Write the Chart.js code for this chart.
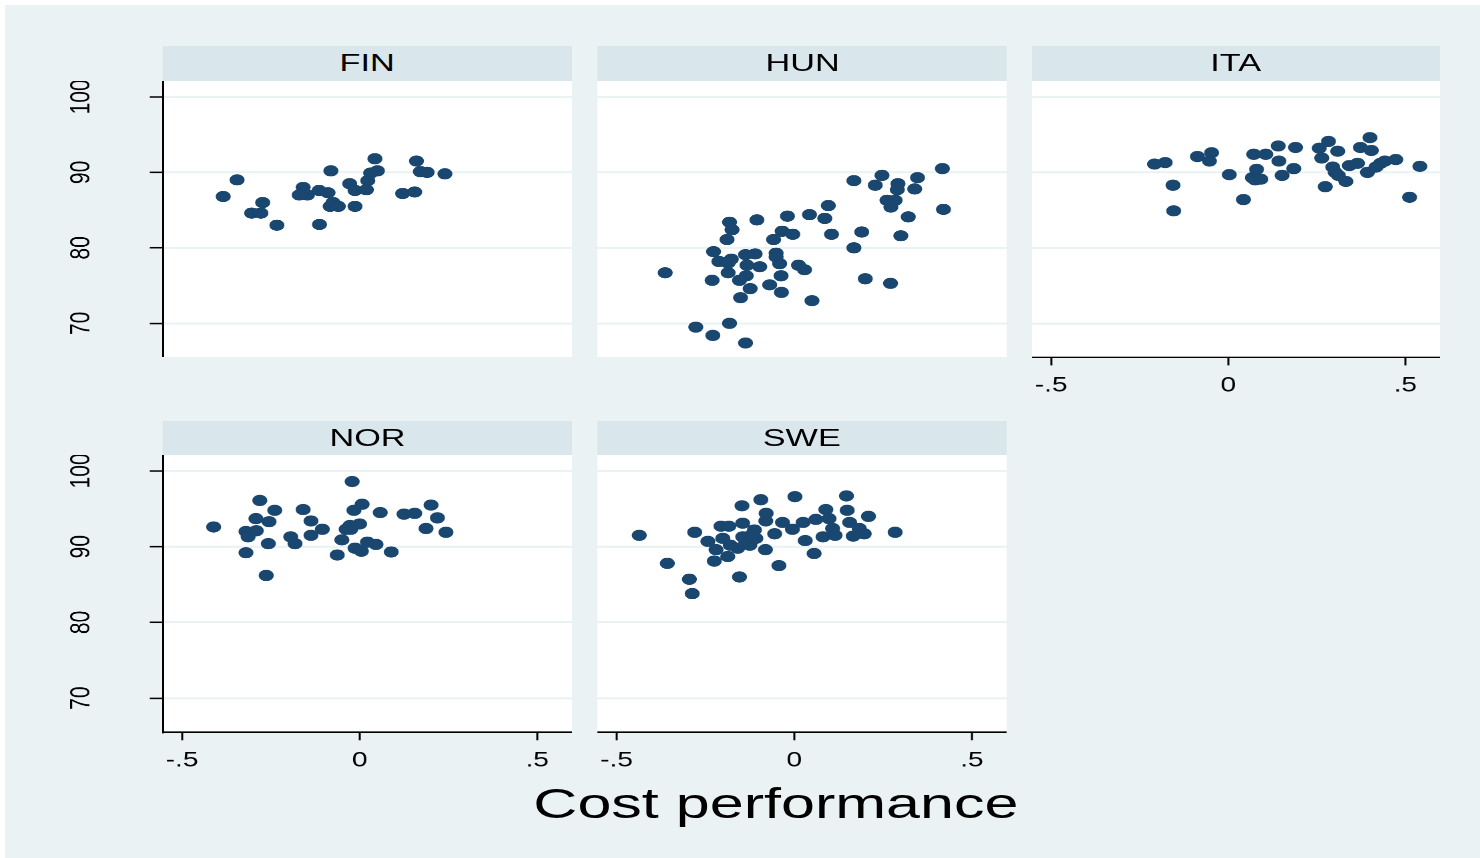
<!DOCTYPE html>
<html>
<head>
<meta charset="utf-8">
<title>Cost performance by country</title>
<script src="https://cdn.jsdelivr.net/npm/chart.js@4/dist/chart.umd.min.js"></script>
<style>
  html, body { margin: 0; padding: 0; background: #ffffff; }
  body { width: 1480px; height: 858px; overflow: hidden; position: relative;
         font-family: "Liberation Sans", Arial, Helvetica, sans-serif; }
  #bg { position: absolute; left: 5px; top: 5px; right: 0; bottom: 0; background: #eaf2f3; }
  /* the whole figure is laid out on a narrower stage and widened horizontally */
  #stage { position: absolute; left: 0; top: 0; width: 1110px; height: 858px;
           transform: scaleX(1.333333); transform-origin: 0 0; }
  .strip { position: absolute; background: #d9e6eb; color: #000; text-align: center;
           font-size: 24px; line-height: 33px; white-space: nowrap; overflow: hidden; }
  .strip span { display: inline-block; transform: scaleX(1.07); }
  .panel { position: absolute; }
  #xtitle { position: absolute; text-align: center; font-size: 42px; line-height: 42px;
            color: #000; white-space: nowrap; }
  #xtitle span { display: inline-block; transform: scaleX(1.09); }
</style>
</head>
<body>
<div id="bg"></div>
<div id="stage"></div>
<script>
// ---- data -------------------------------------------------------------
const countries = ['FIN', 'HUN', 'ITA', 'NOR', 'SWE'];
const xTitle = 'Cost performance';

const xTicks = [-0.5, 0, 0.5];
const xTickLabels = ['-.5', '0', '.5'];
const yTicks = [70, 80, 90, 100];
const yTickLabels = ['70', '80', '90', '100'];

const finX = [-0.384,-0.345,-0.273,-0.304,-0.278,-0.233,-0.159,-0.170,-0.147,-0.114,-0.089,-0.081,-0.083,-0.075,-0.060,
              -0.113,-0.028,-0.013,-0.013,0.019,0.023,0.031,0.050,0.043,0.121,0.155,0.160,0.171,0.190,0.240];
const finY = [86.8,89.0,86.0,84.6,84.6,83.0,88.0,87.0,87.0,87.6,87.3,90.2,85.5,86.0,85.5,
              83.1,88.5,85.5,87.6,87.7,88.9,89.9,90.2,91.8,87.2,87.4,91.5,90.1,90.0,89.8];

const hunX = [-0.363,-0.277,-0.229,-0.182,-0.137,-0.231,-0.227,-0.212,-0.189,-0.182,-0.175,-0.177,-0.186,-0.186,-0.154,
              -0.151,-0.137,-0.133,-0.135,-0.124,-0.110,-0.105,-0.097,-0.069,-0.058,-0.051,-0.051,-0.041,-0.037,-0.036,
              -0.034,-0.019,-0.004,0.012,0.029,0.043,0.050,0.086,0.096,0.105,0.168,0.168,0.190,0.200,0.228,
              0.247,0.261,0.284,0.272,0.271,0.292,0.290,0.300,0.321,0.339,0.347,0.417,0.420];
const hunY = [76.7,69.5,68.4,70.0,67.4,75.7,79.5,78.2,81.1,83.4,82.4,78.5,76.7,78.0,75.7,
              73.4,79.1,77.7,76.3,74.6,79.2,83.7,77.5,75.1,81.1,79.3,78.8,77.9,76.3,74.1,
              82.2,84.2,81.8,77.7,77.1,84.4,73.0,83.9,85.6,81.8,88.9,80.0,82.1,75.9,88.3,
              89.6,86.3,86.3,85.4,75.3,88.5,87.7,81.6,84.1,87.8,89.3,90.5,85.1];

const itaX = [-0.208,-0.178,-0.156,-0.154,-0.087,-0.047,-0.053,0.003,0.043,0.072,0.106,0.080,0.068,0.076,0.092,
              0.141,0.143,0.152,0.185,0.190,0.257,0.264,0.283,0.309,0.274,0.295,0.302,0.311,0.332,0.342,
              0.365,0.373,0.400,0.404,0.393,0.417,0.430,0.442,0.473,0.512,0.541];
const itaY = [91.1,91.3,88.3,84.9,92.1,92.6,91.5,89.7,86.4,92.4,92.4,90.4,89.3,89.0,89.1,
              93.5,91.5,89.6,90.5,93.3,93.2,91.9,94.1,92.8,88.1,90.7,90.0,89.6,88.8,90.9,
              91.2,93.3,94.6,92.9,90.0,90.7,91.2,91.5,91.7,86.7,90.8];

const norX = [-0.411,-0.320,-0.314,-0.291,-0.292,-0.281,-0.320,-0.263,-0.257,-0.255,-0.239,-0.194,-0.182,-0.159,-0.137,
              -0.137,-0.105,-0.063,-0.050,-0.038,-0.027,-0.025,-0.021,-0.016,0.000,0.007,-0.013,0.005,0.022,0.046,
              0.058,0.089,0.125,0.155,0.187,0.201,0.219,0.243];
const norY = [92.6,92.0,91.3,92.1,93.7,96.1,89.2,86.2,90.4,93.3,94.8,91.3,90.4,94.9,93.4,
              91.5,92.3,88.9,90.9,92.3,92.8,92.3,98.6,94.8,93.0,95.6,89.8,89.4,90.6,90.3,
              94.5,89.3,94.3,94.4,92.4,95.5,93.8,91.9];

const sweX = [-0.436,-0.357,-0.295,-0.287,-0.280,-0.243,-0.225,-0.220,-0.206,-0.201,-0.187,-0.184,-0.180,-0.154,-0.147,
              -0.145,-0.145,-0.136,-0.125,-0.112,-0.108,-0.094,-0.081,-0.079,-0.080,-0.055,-0.043,-0.033,-0.005,0.002,
              0.025,0.031,0.056,0.061,0.081,0.089,0.098,0.108,0.115,0.147,0.149,0.156,0.166,0.183,0.197,
              0.209,0.284,-0.122,-0.159];
const sweY = [91.5,87.8,85.7,83.8,91.9,90.7,88.1,89.6,92.7,91.1,88.7,92.7,90.2,86.0,95.4,
              93.1,91.3,90.6,90.2,92.2,91.1,96.2,89.6,94.4,93.4,91.7,87.5,93.2,92.3,96.6,
              93.2,90.8,89.1,93.6,91.3,94.9,93.7,92.4,91.5,96.7,94.8,93.2,91.4,92.4,91.7,
              94.0,91.9,91.5,89.8];

// ---- axis ranges --------------------------------------------------------
const X_MIN = -0.554, X_MAX = 0.599;
const Y_MIN = 65.5, Y_MAX = 102.1;

// ---- layout (screen pixels; the stage is widened by SX) ------------------
const SX = 4 / 3;
const L = px => px / SX;
const colLeft = [163, 597.5, 1031.5];
const panelW = 409;
const rowStripTop = [46, 420.5];
const rowTop = [80.7, 455.2];
const plotH = 276.8;
const YW = 100;        // room for the vertical axis (stage units)
const XH = 45;         // room for the horizontal axis
const FONT = '"Liberation Sans", Arial, Helvetica, sans-serif';
const INK = '#000000';
const MARKER = '#1a476f';
const GRID = '#eaf2f3';

const panels = [
  { name: countries[0], col: 0, row: 0, yAxis: true,  xAxis: false, xs: finX, ys: finY },
  { name: countries[1], col: 1, row: 0, yAxis: false, xAxis: false, xs: hunX, ys: hunY },
  { name: countries[2], col: 2, row: 0, yAxis: false, xAxis: true,  xs: itaX, ys: itaY },
  { name: countries[3], col: 0, row: 1, yAxis: true,  xAxis: true,  xs: norX, ys: norY },
  { name: countries[4], col: 1, row: 1, yAxis: false, xAxis: true,  xs: sweX, ys: sweY }
];

// white plot region behind the markers
const plotFill = {
  id: 'plotFill',
  beforeDraw(chart) {
    const a = chart.chartArea, ctx = chart.ctx;
    ctx.save();
    ctx.fillStyle = '#ffffff';
    ctx.fillRect(a.left, a.top, a.right - a.left, a.bottom - a.top);
    ctx.restore();
  }
};

// vertical tick labels, reading bottom to top
const yLabels = {
  id: 'yLabels',
  afterDraw(chart, args, opts) {
    if (!opts.show) return;
    const scale = chart.scales.y, ctx = chart.ctx;
    ctx.save();
    ctx.font = '21px ' + FONT;
    ctx.fillStyle = INK;
    ctx.textAlign = 'center';
    ctx.textBaseline = 'middle';
    yTicks.forEach((v, i) => {
      ctx.save();
      ctx.translate(chart.chartArea.left - opts.offset, scale.getPixelForValue(v));
      ctx.rotate(-Math.PI / 2);
      ctx.fillText(yTickLabels[i], 0, 0);
      ctx.restore();
    });
    ctx.restore();
  }
};

const stage = document.getElementById('stage');

panels.forEach(p => {
  const left = L(colLeft[p.col]);
  const w = L(panelW);

  const strip = document.createElement('div');
  strip.className = 'strip';
  strip.style.left = left + 'px';
  strip.style.top = rowStripTop[p.row] + 'px';
  strip.style.width = w + 'px';
  strip.style.height = (rowTop[p.row] - rowStripTop[p.row]) + 'px';
  const label = document.createElement('span');
  label.textContent = p.name;
  strip.appendChild(label);
  stage.appendChild(strip);

  const box = document.createElement('div');
  box.className = 'panel';
  const yw = p.yAxis ? YW : 0;
  const xh = p.xAxis ? XH : 0;
  box.style.left = (left - yw) + 'px';
  box.style.top = rowTop[p.row] + 'px';
  box.style.width = (w + yw) + 'px';
  box.style.height = (plotH + xh) + 'px';
  const canvas = document.createElement('canvas');
  box.appendChild(canvas);
  stage.appendChild(box);

  new Chart(canvas, {
    type: 'scatter',
    data: {
      datasets: [{
        data: p.xs.map((x, i) => ({ x: x, y: p.ys[i] })),
        backgroundColor: MARKER,
        borderWidth: 0,
        pointRadius: 5.6,
        pointHoverRadius: 5.6
      }]
    },
    options: {
      responsive: true,
      maintainAspectRatio: false,
      animation: false,
      devicePixelRatio: 2,
      events: [],
      layout: { padding: 0, autoPadding: false },
      plugins: {
        legend: { display: false },
        tooltip: { enabled: false },
        yLabels: { show: p.yAxis, offset: L(81) }
      },
      scales: {
        x: {
          type: 'linear',
          min: X_MIN, max: X_MAX,
          display: p.xAxis,
          afterBuildTicks: s => { s.ticks = xTicks.map(v => ({ value: v })); },
          afterFit: s => {
            s.height = xh;
            s.paddingLeft = 0; s.paddingRight = 0; s.paddingTop = 0; s.paddingBottom = 0;
          },
          grid: { drawOnChartArea: false, drawTicks: true, tickLength: 8, tickWidth: 1.5, tickColor: INK },
          border: { display: true, color: INK, width: 1.5 },
          ticks: {
            padding: 8, color: INK, autoSkip: false, minRotation: 0, maxRotation: 0,
            font: { family: FONT, size: 21 },
            callback: (v, i) => xTickLabels[i]
          }
        },
        y: {
          type: 'linear',
          min: Y_MIN, max: Y_MAX,
          afterBuildTicks: s => { s.ticks = yTicks.map(v => ({ value: v })); },
          afterFit: s => {
            s.width = yw;
            s.paddingLeft = 0; s.paddingRight = 0; s.paddingTop = 0; s.paddingBottom = 0;
          },
          grid: { color: GRID, lineWidth: 2, drawTicks: p.yAxis, tickLength: L(13), tickWidth: 1.5, tickColor: INK },
          border: { display: p.yAxis, color: INK, width: 1.5 },
          ticks: { display: false }
        }
      }
    },
    plugins: [plotFill, yLabels]
  });
});

// overall horizontal-axis title
const xt = document.createElement('div');
xt.id = 'xtitle';
xt.style.left = (L(776) - 300) + 'px';
xt.style.width = '600px';
xt.style.top = '783px';
const xts = document.createElement('span');
xts.textContent = xTitle;
xt.appendChild(xts);
stage.appendChild(xt);
</script>
</body>
</html>
